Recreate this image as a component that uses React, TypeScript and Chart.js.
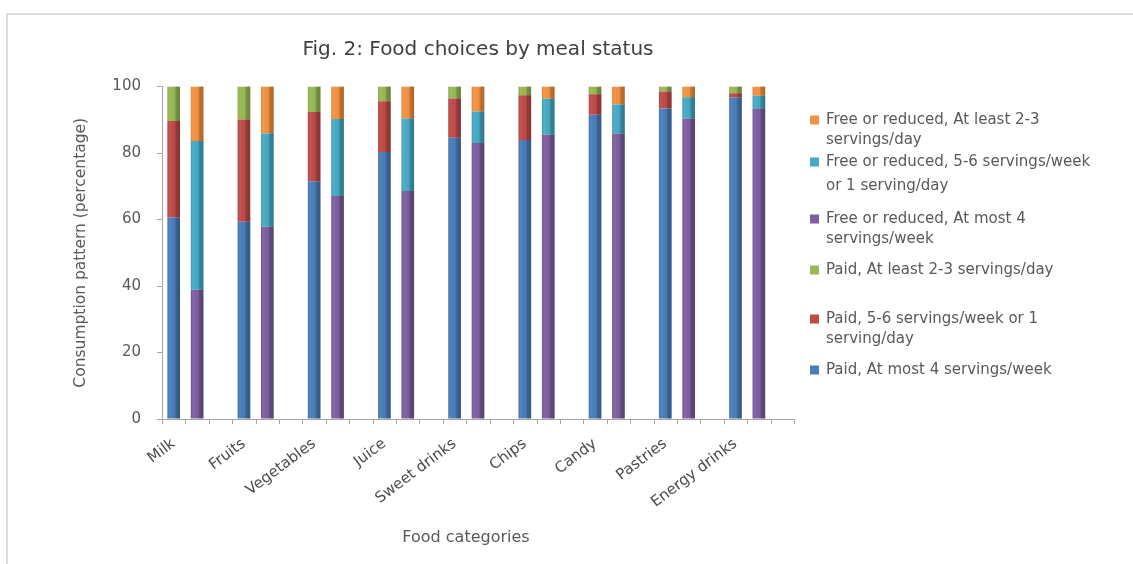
import React, { useEffect, useRef } from "react";
import { Chart, registerables } from "chart.js";

Chart.register(...registerables);

// ---------- data ----------
const categories = [
  "Milk",
  "Fruits",
  "Vegetables",
  "Juice",
  "Sweet drinks",
  "Chips",
  "Candy",
  "Pastries",
  "Energy drinks",
];

// Paid students (stack 1)
const paidAtMost4PerWeek = [60.6, 59.3, 71.5, 80.3, 84.6, 83.9, 91.5, 93.4, 96.7];
const paid5to6PerWeekOr1PerDay = [29.0, 30.8, 20.8, 15.3, 11.8, 13.5, 6.2, 5.1, 1.3];
const paidAtLeast2to3PerDay = [10.4, 9.9, 7.7, 4.4, 3.6, 2.6, 2.3, 1.5, 2.0];

// Free or reduced students (stack 2)
const freeAtMost4PerWeek = [38.9, 57.8, 67.1, 68.6, 83.0, 85.5, 85.9, 90.4, 93.2];
const free5to6PerWeekOr1PerDay = [44.7, 28.1, 23.1, 21.8, 9.5, 10.8, 8.7, 6.4, 4.0];
const freeAtLeast2to3PerDay = [16.4, 14.1, 9.8, 9.6, 7.5, 3.7, 5.4, 3.2, 2.8];

// empty third slot in every category (spacing, as in the original)
const spacer = [0, 0, 0, 0, 0, 0, 0, 0, 0];

const yTicks = [0, 20, 40, 60, 80, 100];

const chartTitle = "Fig. 2: Food choices by meal status";
const xAxisTitle = "Food categories";
const yAxisTitle = "Consumption pattern (percentage)";

const seriesLabels = [
  "Paid, At most 4 servings/week",
  "Paid, 5-6 servings/week or 1 serving/day",
  "Paid, At least 2-3 servings/day",
  "Free or reduced, At most 4 servings/week",
  "Free or reduced, 5-6 servings/week or 1 serving/day",
  "Free or reduced, At least 2-3 servings/day",
];

// legend text, top to bottom (line breaks as in the picture)
const legendLines = [
  ["Free or reduced, At least 2-3", "servings/day"],
  ["Free or reduced, 5-6 servings/week", "or 1 serving/day"],
  ["Free or reduced, At most 4", "servings/week"],
  ["Paid, At least 2-3 servings/day"],
  ["Paid, 5-6 servings/week or 1", "serving/day"],
  ["Paid, At most 4 servings/week"],
];
const legendDatasetOrder = [5, 4, 3, 2, 1, 0];

const COLORS = {
  blue: "#4A7DBA",
  red: "#BE4B48",
  green: "#98B954",
  purple: "#7D5FA0",
  teal: "#46AAC5",
  orange: "#F59240",
};

// ---------- layout (styling only) ----------
const W = 1133;
const H = 564;
const PLOT_LEFT = 162;
const PLOT_RIGHT = 794;
const PLOT_TOP = 86.5;
const PLOT_BOTTOM = 419;
const LEGEND_ROW_Y = [[120, 140], [162, 186], [219, 239], [270], [319, 339], [370]];
const LEGEND_MARK_X = 810;
const LEGEND_TEXT_X = 826;
const X_TITLE_X = 466;
const X_TITLE_Y = 538;
const FONT = "'DejaVu Sans', 'Noto Sans', sans-serif";
const TEXT_COLOR = "#595959";

const frameAndDecorPlugin = {
  id: "frameAndDecor",
  beforeDraw(chart: any) {
    const { ctx } = chart;
    ctx.save();
    ctx.fillStyle = "#ffffff";
    ctx.fillRect(0, 0, W, H);
    ctx.strokeStyle = "#dcdcdc";
    ctx.lineWidth = 2;
    ctx.beginPath();
    ctx.moveTo(7, H);
    ctx.lineTo(7, 14);
    ctx.lineTo(W, 14);
    ctx.stroke();
    ctx.restore();
  },
  afterDatasetsDraw(chart: any) {
    const { ctx } = chart;
    ctx.save();
    chart.data.datasets.forEach((ds: any, di: number) => {
      if (ds.stack === "gap") return;
      const meta = chart.getDatasetMeta(di);
      meta.data.forEach((el: any) => {
        const { x, y, base, width } = el.getProps(["x", "y", "base", "width"], true);
        if (Math.abs(base - y) < 0.5) return;
        const l = x - width / 2;
        const r = x + width / 2;
        const g = ctx.createLinearGradient(l, 0, r, 0);
        g.addColorStop(0, "rgba(0,0,0,0.10)");
        g.addColorStop(0.2, "rgba(255,255,255,0.06)");
        g.addColorStop(0.55, "rgba(0,0,0,0.0)");
        g.addColorStop(0.7, "rgba(0,0,0,0.22)");
        g.addColorStop(1, "rgba(0,0,0,0.30)");
        ctx.fillStyle = g;
        ctx.fillRect(l, Math.min(y, base), width, Math.abs(base - y));
      });
    });
    // small tick marks under the x axis, one per slot
    const xs = chart.scales.x;
    const n = chart.data.labels.length;
    const slots = n * 3;
    ctx.strokeStyle = "#a6a6a6";
    ctx.lineWidth = 1;
    ctx.beginPath();
    for (let i = 0; i <= slots; i++) {
      const px = Math.round(xs.left + ((xs.right - xs.left) * i) / slots) + 0.5;
      ctx.moveTo(px, xs.top);
      ctx.lineTo(px, xs.top + 5);
    }
    ctx.stroke();
    ctx.restore();
  },
  afterDraw(chart: any) {
    const { ctx } = chart;
    ctx.save();
    // x axis title
    ctx.font = `16px ${FONT}`;
    ctx.fillStyle = TEXT_COLOR;
    ctx.textAlign = "center";
    ctx.textBaseline = "middle";
    ctx.fillText(xAxisTitle, X_TITLE_X, X_TITLE_Y);
    // legend
    ctx.font = `15px ${FONT}`;
    ctx.textAlign = "left";
    legendLines.forEach((lines, i) => {
      const ds = chart.data.datasets[legendDatasetOrder[i]];
      const rows = LEGEND_ROW_Y[i];
      ctx.fillStyle = ds.backgroundColor;
      ctx.fillRect(LEGEND_MARK_X, rows[0] - 4.5, 9, 9);
      ctx.fillStyle = TEXT_COLOR;
      lines.forEach((t, k) => ctx.fillText(t, LEGEND_TEXT_X, rows[k]));
    });
    ctx.restore();
  },
};

export default function App() {
  const canvasRef = useRef<HTMLCanvasElement | null>(null);

  useEffect(() => {
    if (!canvasRef.current) return;
    const mk = (label: string, data: number[], color: string, stack: string) => ({
      label,
      data,
      backgroundColor: color,
      borderWidth: 0,
      stack,
      barPercentage: 0.54,
      categoryPercentage: 1,
    });
    const chart = new Chart(canvasRef.current, {
      type: "bar",
      data: {
        labels: categories,
        datasets: [
          mk(seriesLabels[0], paidAtMost4PerWeek, COLORS.blue, "paid"),
          mk(seriesLabels[1], paid5to6PerWeekOr1PerDay, COLORS.red, "paid"),
          mk(seriesLabels[2], paidAtLeast2to3PerDay, COLORS.green, "paid"),
          mk(seriesLabels[3], freeAtMost4PerWeek, COLORS.purple, "free"),
          mk(seriesLabels[4], free5to6PerWeekOr1PerDay, COLORS.teal, "free"),
          mk(seriesLabels[5], freeAtLeast2to3PerDay, COLORS.orange, "free"),
          mk("", spacer, "rgba(0,0,0,0)", "gap"),
        ],
      },
      options: {
        responsive: false,
        animation: false,
        layout: { padding: { left: 0, top: 0, right: W - PLOT_RIGHT, bottom: 0 } },
        plugins: {
          legend: { display: false },
          tooltip: { enabled: false },
          title: {
            display: true,
            text: chartTitle,
            fullSize: false,
            color: "#404040",
            font: { family: FONT, size: 20, weight: "normal", lineHeight: 1.2 },
            padding: { top: 38, bottom: PLOT_TOP - 38 - 24 },
          },
        },
        scales: {
          x: {
            stacked: true,
            grid: { display: false },
            border: { display: true, color: "#a6a6a6", width: 1 },
            ticks: {
              minRotation: 37,
              maxRotation: 37,
              autoSkip: false,
              padding: 8,
              labelOffset: -(PLOT_RIGHT - PLOT_LEFT) / categories.length / 3,
              color: "#4d4d4d",
              font: { family: FONT, size: 15 },
            },
            title: { display: false },
            afterFit(scale: any) {
              scale.height = H - PLOT_BOTTOM;
            },
          },
          y: {
            stacked: true,
            min: 0,
            max: 100,
            afterBuildTicks(scale: any) {
              scale.ticks = yTicks.map((v) => ({ value: v }));
            },
            grid: {
              drawOnChartArea: false,
              drawTicks: true,
              tickLength: 5,
              color: "#a6a6a6",
            },
            border: { display: true, color: "#a6a6a6", width: 1 },
            ticks: {
              padding: 16,
              color: TEXT_COLOR,
              font: { family: FONT, size: 15 },
            },
            title: {
              display: true,
              text: yAxisTitle,
              color: TEXT_COLOR,
              font: { family: FONT, size: 15.5, lineHeight: 1.2 },
              padding: { top: 72, bottom: 0 },
            },
            afterFit(scale: any) {
              scale.width = PLOT_LEFT;
            },
          },
        },
      },
      plugins: [frameAndDecorPlugin],
    } as any);
    return () => chart.destroy();
  }, []);

  return (
    <div style={{ position: "absolute", left: 0, top: 0, width: W, height: H }}>
      <canvas ref={canvasRef} width={W} height={H} style={{ display: "block" }} />
    </div>
  );
}
